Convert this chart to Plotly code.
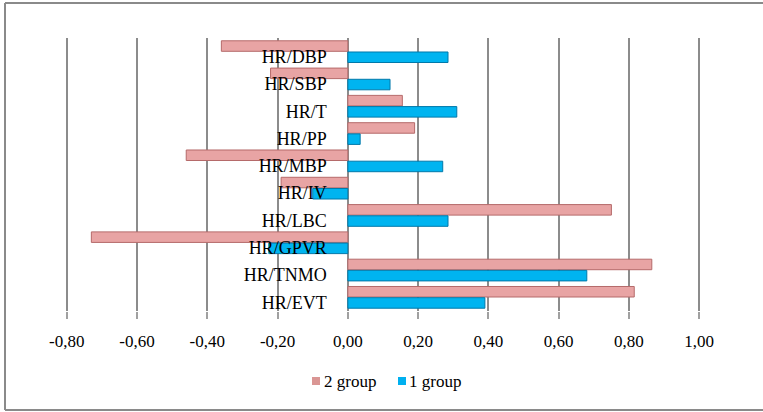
import plotly.graph_objects as go

categories = ["HR/DBP", "HR/SBP", "HR/T", "HR/PP", "HR/MBP", "HR/IV", "HR/LBC", "HR/GPVR", "HR/TNMO", "HR/EVT"]
group2 = [-0.36, -0.22, 0.155, 0.19, -0.46, -0.19, 0.75, -0.73, 0.865, 0.815]
group1 = [0.285, 0.12, 0.31, 0.035, 0.27, -0.10, 0.285, -0.225, 0.68, 0.39]
series_names = ["2 group", "1 group"]
tick_vals = [-0.8, -0.6, -0.4, -0.2, 0.0, 0.2, 0.4, 0.6, 0.8, 1.0]
tick_text = ["-0,80", "-0,60", "-0,40", "-0,20", "0,00", "0,20", "0,40", "0,60", "0,80", "1,00"]

W, H = 763, 412
L, R, T, B = 65, 62, 38, 101
pw, ph = W - L - R, H - T - B

def px_x(p):
    return (p - L) / pw

def px_y(p):
    return (H - B - p) / ph

pink, pink_edge, pink_leg = "#E8A4A4", "#B56A6A", "#DA9694"
blue, blue_edge, blue_leg = "#00B4F0", "#0079AA", "#00B0F0"

fig = go.Figure()
fig.add_trace(go.Bar(
    y=categories, x=group2, orientation="h", name=series_names[0], showlegend=False,
    marker=dict(color=pink, line=dict(color=pink_edge, width=1)),
))
fig.add_trace(go.Bar(
    y=categories, x=group1, orientation="h", name=series_names[1], showlegend=False,
    marker=dict(color=blue, line=dict(color=blue_edge, width=1)),
))

serif = "Liberation Serif"
x0_frac = (0 - tick_vals[0]) / (tick_vals[-1] - tick_vals[0])

border = "#8A8A8A"
shapes = [
    dict(type="line", xref="paper", yref="paper", x0=px_x(5), x1=px_x(770), y0=px_y(3), y1=px_y(3),
         line=dict(color=border, width=2)),
    dict(type="line", xref="paper", yref="paper", x0=px_x(5), x1=px_x(5), y0=px_y(3), y1=px_y(410),
         line=dict(color=border, width=2)),
    dict(type="line", xref="paper", yref="paper", x0=px_x(5), x1=px_x(770), y0=px_y(410), y1=px_y(410),
         line=dict(color=border, width=2)),
    # legend swatches
    dict(type="rect", xref="paper", yref="paper", x0=px_x(312), x1=px_x(320), y0=px_y(377), y1=px_y(385),
         line=dict(width=0), fillcolor=pink_leg),
    dict(type="rect", xref="paper", yref="paper", x0=px_x(398), x1=px_x(406), y0=px_y(377), y1=px_y(385),
         line=dict(width=0), fillcolor=blue_leg),
]
annotations = [
    dict(xref="paper", yref="paper", x=px_x(322), y=px_y(381), xanchor="left", yanchor="middle",
         text=series_names[0], showarrow=False, font=dict(family=serif, size=17, color="#000")),
    dict(xref="paper", yref="paper", x=px_x(407), y=px_y(381), xanchor="left", yanchor="middle",
         text=series_names[1], showarrow=False, font=dict(family=serif, size=17, color="#000")),
]

fig.update_layout(
    width=W, height=H,
    margin=dict(l=L, r=R, t=T, b=B),
    paper_bgcolor="white", plot_bgcolor="white",
    barmode="group", bargap=0.18, bargroupgap=0.06,
    font=dict(family=serif, color="#000000"),
    showlegend=False,
    xaxis=dict(
        range=[-0.805, 1.005], tickvals=tick_vals, ticktext=tick_text,
        showgrid=True, gridcolor="#8C8C8C", gridwidth=2,
        zeroline=True, zerolinecolor="#8C8C8C", zerolinewidth=2,
        showline=False, ticks="outside", ticklen=7, tickwidth=1.5, tickcolor="#A0A0A0",
        ticklabelstandoff=8,
        tickfont=dict(family=serif, size=17), fixedrange=True,
    ),
    yaxis=dict(
        autorange="reversed", anchor="free", position=x0_frac,
        showgrid=False, zeroline=False, showline=False,
        ticks="", ticklabelstandoff=21, ticklabelshift=-5,
        tickfont=dict(family=serif, size=18), fixedrange=True,
    ),
    shapes=shapes,
    annotations=annotations,
)

fig.write_html("out.html", post_script="document.body.style.margin='0';",
               config={"displayModeBar": False})
